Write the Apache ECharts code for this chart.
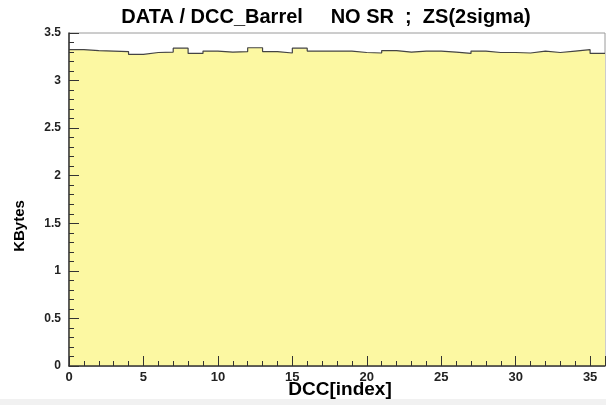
<!DOCTYPE html>
<html>
<head>
<meta charset="utf-8">
<script src="https://cdn.jsdelivr.net/npm/echarts@6/dist/echarts.min.js"></script>
<style>
  html, body { margin: 0; padding: 0; background: #ffffff; }
  #chart { width: 606px; height: 405px; }
</style>
</head>
<body>
<div id="chart"></div>
<script>
// DCC barrel event size per DCC index (KBytes), one bin per DCC
const dccIndex = [0,1,2,3,4,5,6,7,8,9,10,11,12,13,14,15,16,17,18,19,20,21,22,23,24,25,26,27,28,29,30,31,32,33,34,35];
const kbytes = [3.325,3.315,3.31,3.305,3.275,3.295,3.30,3.34,3.285,3.31,3.30,3.305,3.345,3.305,3.29,3.34,3.31,3.31,3.31,3.295,3.29,3.315,3.30,3.31,3.31,3.30,3.285,3.31,3.295,3.295,3.29,3.31,3.295,3.31,3.325,3.285];
const xTicks = [0,5,10,15,20,25,30,35];
const yTicks = [0,0.5,1,1.5,2,2.5,3,3.5];

const titleText = 'DATA / DCC_Barrel     NO SR  ;  ZS(2sigma)';
const xTitle = 'DCC[index]';
const yTitle = 'KBytes';

// step outline: each bin value held from its low edge to the next edge
const stepPoints = dccIndex.map((i, k) => [i, kbytes[k]]);
stepPoints.push([dccIndex.length, kbytes[kbytes.length - 1]]);

const chart = echarts.init(document.getElementById('chart'), null, { renderer: 'canvas' });
const boldFont = 'Liberation Sans, Arial, Helvetica, sans-serif';

chart.setOption({
  animation: false,
  backgroundColor: '#ffffff',
  title: {
    text: titleText,
    left: 321, top: 2, textAlign: 'center',
    textStyle: { fontFamily: boldFont, fontWeight: 'bold', fontSize: 20, color: '#000' }
  },
  graphic: [
    {
      type: 'rect', silent: true, z: -10,
      shape: { x: 0, y: 399, width: 606, height: 6 },
      style: { fill: '#f1f1f1' }
    },
    {
      type: 'text', silent: true,
      x: 20, y: 226, rotation: Math.PI / 2,
      style: {
        text: yTitle, fill: '#000', align: 'center', verticalAlign: 'middle',
        font: 'bold 15px ' + boldFont
      }
    },
    {
      type: 'text', silent: true,
      x: 340, y: 390,
      style: {
        text: xTitle, fill: '#000', align: 'center', verticalAlign: 'middle',
        font: 'bold 19px ' + boldFont
      }
    }
  ],
  grid: {
    left: 69, right: 1, top: 33, bottom: 39,
    outerBoundsMode: 'none', containLabel: false,
    show: true, borderColor: '#9a9a9a', borderWidth: 1, backgroundColor: 'transparent'
  },
  xAxis: {
    type: 'value', min: 0, max: 36, interval: 5, z: 10,
    axisLine: { show: true, onZero: false, lineStyle: { color: '#333', width: 1.5 } },
    axisTick: { show: true, inside: true, length: 10, lineStyle: { color: '#333', width: 1 } },
    minorTick: { show: true, splitNumber: 5, length: 5, lineStyle: { color: '#333', width: 1 } },
    axisLabel: {
      fontFamily: boldFont, fontWeight: 'bold', fontSize: 13, color: '#222', margin: 5,
      formatter: v => (xTicks.indexOf(v) >= 0 ? String(v) : '')
    },
    splitLine: { show: false }
  },
  yAxis: {
    type: 'value', min: 0, max: 3.5, interval: 0.5, z: 10,
    axisLine: { show: true, onZero: false, lineStyle: { color: '#333', width: 1.5 } },
    axisTick: { show: true, inside: true, length: 10, lineStyle: { color: '#333', width: 1 } },
    minorTick: { show: true, splitNumber: 5, length: 5, lineStyle: { color: '#333', width: 1 } },
    axisLabel: {
      fontFamily: boldFont, fontWeight: 'bold', fontSize: 12, color: '#222', margin: 8,
      formatter: v => {
        const t = yTicks.find(y => Math.abs(y - v) < 1e-9);
        return t === undefined ? '' : String(t);
      }
    },
    splitLine: { show: false }
  },
  series: [{
    type: 'line',
    data: stepPoints,
    step: 'end',
    symbol: 'none',
    lineStyle: { color: '#444', width: 1.2 },
    areaStyle: { color: '#fcf8a2', opacity: 1, origin: 'start' },
    z: 0
  }]
});
</script>
</body>
</html>
